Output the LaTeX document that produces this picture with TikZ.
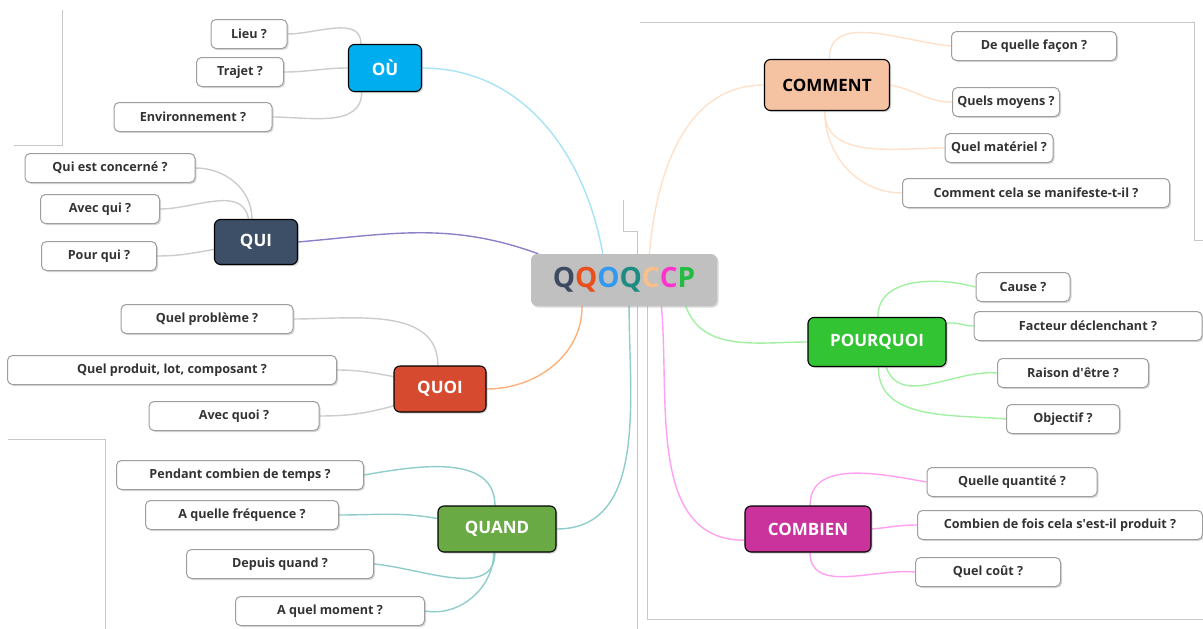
\documentclass[tikz,border=0pt]{standalone}
\usepackage{fontspec}
\setmainfont{Open Sans}
\usepackage{tikz}
\usetikzlibrary{shadows, backgrounds}
\usepackage{xcolor}
\definecolor{ouc}{HTML}{00AEEF}
\definecolor{quic}{HTML}{3D4E67}
\definecolor{quoic}{HTML}{D64B30}
\definecolor{quandc}{HTML}{6AAA45}
\definecolor{commentc}{HTML}{F5C2A2}
\definecolor{pourquoic}{HTML}{33C433}
\definecolor{combienc}{HTML}{C9339B}
\definecolor{qqgray}{HTML}{C0C0C0}
\definecolor{lcyan}{HTML}{A6E3F4}
\definecolor{lpurple}{HTML}{8D80C8}
\definecolor{lorange}{HTML}{FFB07A}
\definecolor{lteal}{HTML}{8ECDC9}
\definecolor{lpeach}{HTML}{FFE1C9}
\definecolor{lgreen}{HTML}{A2F0A2}
\definecolor{lpink}{HTML}{FFA0F2}
\definecolor{lgray}{HTML}{CCCCCC}
\definecolor{qA}{HTML}{3E4A62}
\definecolor{qB}{HTML}{E8501E}
\definecolor{qC}{HTML}{3399EE}
\definecolor{qD}{HTML}{1E8C82}
\definecolor{qE}{HTML}{F9C08A}
\definecolor{qF}{HTML}{FF33CC}
\definecolor{qG}{HTML}{22BB44}
\tikzset{
  leaf/.style={rectangle, rounded corners=5pt, draw=black!38, fill=white, line width=1pt,
               inner sep=0pt, minimum height=29pt, text=black!80,
               font=\fontsize{12.6}{14}\selectfont\bfseries,
               drop shadow={shadow xshift=1.5pt, shadow yshift=-1.5pt, opacity=0.3}},
  branch/.style={rectangle, rounded corners=6pt, draw=black, line width=1.1pt,
               inner sep=0pt, minimum height=46pt, text=white,
               font=\fontsize{17}{20}\selectfont\bfseries,
               drop shadow={shadow xshift=1.5pt, shadow yshift=-1.5pt, opacity=0.35}},
  hub/.style={rectangle, rounded corners=6pt, fill=qqgray, inner sep=0pt,
               minimum width=186pt, minimum height=52pt,
               font=\fontsize{28}{32}\selectfont\bfseries,
               drop shadow={shadow xshift=1.5pt, shadow yshift=-1.5pt, opacity=0.3}},
  link/.style={line width=1.4pt},
  frameline/.style={draw=black!22, line width=0.8pt},
}
\begin{document}
\begin{tikzpicture}[x=1pt, y=1pt]
  \useasboundingbox (0,0) rectangle (1203,-629);
  % screenshot frames
  \draw[frameline] (62,-10) -- (62,-145) -- (14,-145);
  \draw[frameline] (8,-439) -- (105,-439) -- (105,-629);
  \draw[frameline] (623,-200) -- (623,-231) -- (637,-231) -- (637,-629);
  \draw[frameline] (647,-300) -- (647,-619) -- (1203,-619);
  \draw[frameline] (640,-22) -- (1194,-22) -- (1194,-240) -- (1203,-240);

  % centre
  \node[hub] (qq) at (624,-280) {\textcolor{qA}{Q}\textcolor{qB}{Q}\textcolor{qC}{O}\textcolor{qD}{Q}\textcolor{qE}{C}\textcolor{qF}{C}\textcolor{qG}{P}};

  % branches
  \node[branch, fill=ouc, minimum width=73pt, minimum height=47pt] (ou) at (385,-68) {OÙ};
  \node[branch, fill=quic, minimum width=83pt, minimum height=45pt] (qui) at (256,-242) {QUI};
  \node[branch, fill=quoic, minimum width=92pt] (quoi) at (440,-389) {QUOI};
  \node[branch, fill=quandc, minimum width=118pt] (quand) at (497,-529) {QUAND};
  \node[branch, fill=commentc, text=black, minimum width=125pt, minimum height=51pt] (comment) at (827,-85) {COMMENT};
  \node[branch, fill=pourquoic, minimum width=138pt, minimum height=49pt] (pourquoi) at (877,-342) {POURQUOI};
  \node[branch, fill=combienc, minimum width=126pt] (combien) at (808,-529) {COMBIEN};

  % leaves
  \node[leaf, minimum width=76pt] (lieu) at (249,-34) {Lieu ?};
  \node[leaf, minimum width=87pt] (trajet) at (240,-72) {Trajet ?};
  \node[leaf, minimum width=158pt] (envir) at (193,-117) {Environnement ?};

  \node[leaf, minimum width=170pt] (concerne) at (110,-168) {Qui est concerné ?};
  \node[leaf, minimum width=119pt] (avecqui) at (100,-209) {Avec qui ?};
  \node[leaf, minimum width=115pt] (pourqui) at (99,-256) {Pour qui ?};

  \node[leaf, minimum width=172pt] (probleme) at (207,-319) {Quel problème ?};
  \node[leaf, minimum width=329pt] (produit) at (172,-370) {Quel produit, lot, composant ?};
  \node[leaf, minimum width=170pt] (avecquoi) at (234,-416) {Avec quoi ?};

  \node[leaf, minimum width=247pt] (pendant) at (240,-475) {Pendant combien de temps ?};
  \node[leaf, minimum width=193pt] (frequence) at (242,-515) {A quelle fréquence ?};
  \node[leaf, minimum width=187pt] (depuis) at (280,-564) {Depuis quand ?};
  \node[leaf, minimum width=189pt] (moment) at (330,-611) {A quel moment ?};

  \node[leaf, minimum width=165pt] (facon) at (1034,-46) {De quelle façon ?};
  \node[leaf, minimum width=107pt] (moyens) at (1006,-102) {Quels moyens ?};
  \node[leaf, minimum width=108pt] (materiel) at (999,-148) {Quel matériel ?};
  \node[leaf, minimum width=267pt] (manif) at (1036,-193) {Comment cela se manifeste-t-il ?};

  \node[leaf, minimum width=94pt] (cause) at (1023,-287) {Cause ?};
  \node[leaf, minimum width=228pt] (facteur) at (1088,-326) {Facteur déclenchant ?};
  \node[leaf, minimum width=151pt] (raison) at (1073,-373) {Raison d\textquotesingle être ?};
  \node[leaf, minimum width=113pt] (objectif) at (1063,-419) {Objectif ?};

  \node[leaf, minimum width=170pt] (quantite) at (1012,-482) {Quelle quantité ?};
  \node[leaf, minimum width=285pt] (fois) at (1060,-525) {Combien de fois cela s\textquotesingle est-il produit ?};
  \node[leaf, minimum width=145pt] (cout) at (988,-572) {Quel coût ?};

  \begin{scope}[on background layer]
    % main links
    \draw[link, lcyan] (ou.east) to[out=0, in=100] (qq.129);
    \draw[link, lpurple] (qui.east) to[out=5, in=160] (qq.163);
    \draw[link, lorange] (quoi.east) to[out=0, in=-90] (qq.212);
    \draw[link, lteal] (quand.east) to[out=0, in=-90] (qq.281);
    \draw[link, lpeach] (comment.west) to[out=180, in=85] (qq.46);
    \draw[link, lgreen] (pourquoi.west) to[out=180, in=-70] (qq.337);
    \draw[link, lpink] (combien.190) to[out=180, in=-85] (qq.325);
    % leaf links
    \draw[link, lgray] (lieu.east) to[out=0, in=90] (ou.135);
    \draw[link, lgray] (trajet.east) to[out=0, in=180] (ou.west);
    \draw[link, lgray] (envir.east) to[out=0, in=-90] (ou.226);
    \draw[link, lgray] (concerne.east) to[out=0, in=90] (qui.100);
    \draw[link, lgray] (avecqui.east) to[out=0, in=100] (qui.108);
    \draw[link, lgray] (pourqui.east) to[out=0, in=190] (qui.190);
    \draw[link, lgray] (probleme.east) to[out=0, in=90] (quoi.95);
    \draw[link, lgray] (produit.east) to[out=0, in=170] (quoi.165);
    \draw[link, lgray] (avecquoi.east) to[out=0, in=195] (quoi.200);
    \draw[link, lteal] (pendant.east) to[out=10, in=90] (quand.95);
    \draw[link, lteal] (frequence.east) to[out=0, in=170] (quand.170);
    \draw[link, lteal] (depuis.east) to[out=-5, in=-90] (quand.265);
    \draw[link, lteal] (moment.east) to[out=-10, in=-90] (quand.262);
    \draw[link, lpeach] (comment.85) to[out=90, in=175] (facon.west);
    \draw[link, lpeach] (comment.east) to[out=-10, in=180] (moyens.west);
    \draw[link, lpeach] (comment.265) to[out=-90, in=180] (materiel.west);
    \draw[link, lpeach] (comment.265) to[out=-90, in=180] (manif.west);
    \draw[link, lgreen] (pourquoi.88) to[out=90, in=165] (cause.west);
    \draw[link, lgreen] (pourquoi.15) to[out=10, in=180] (facteur.west);
    \draw[link, lgreen] (pourquoi.-70) to[out=-70, in=175] (raison.west);
    \draw[link, lgreen] (pourquoi.-87) to[out=-90, in=175] (objectif.west);
    \draw[link, lpink] (combien.85) to[out=90, in=170] (quantite.west);
    \draw[link, lpink] (combien.east) to[out=5, in=180] (fois.west);
    \draw[link, lpink] (combien.-85) to[out=-90, in=175] (cout.west);
  \end{scope}
\end{tikzpicture}
\end{document}
